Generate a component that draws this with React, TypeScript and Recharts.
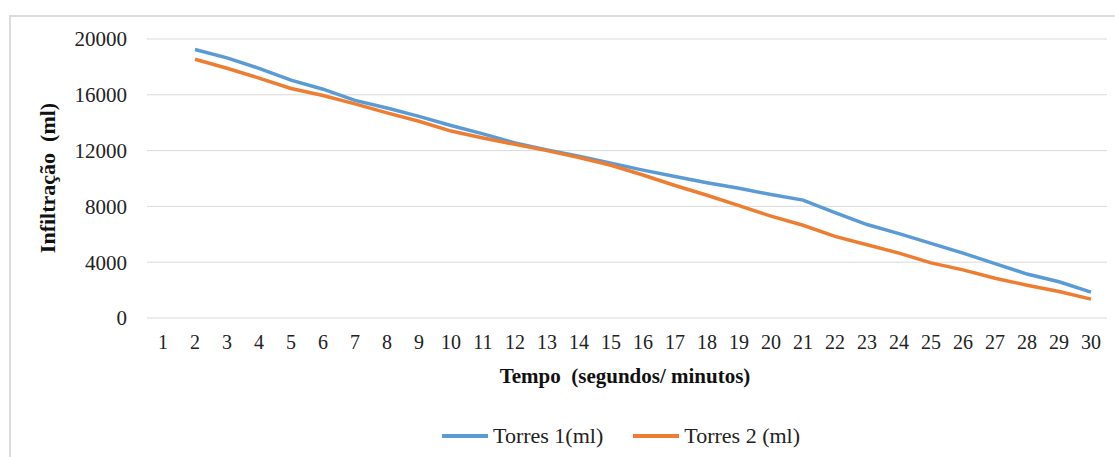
import { LineChart, Line, XAxis, YAxis, CartesianGrid } from "recharts";

const tempo = Array.from({ length: 30 }, (_, i) => String(i + 1));

const torres1: (number | null)[] = [
  null, 19250, 18650, 17900, 17050, 16400, 15600, 15050, 14450, 13800,
  13200, 12550, 12050, 11600, 11100, 10600, 10150, 9700, 9300, 8850,
  8450, 7550, 6700, 6050, 5350, 4650, 3900, 3150, 2600, 1850,
];

const torres2: (number | null)[] = [
  null, 18550, 17900, 17200, 16450, 15950, 15350, 14700, 14100, 13400,
  12900, 12450, 12000, 11500, 10950, 10250, 9500, 8800, 8050, 7300,
  6650, 5850, 5250, 4650, 3950, 3450, 2850, 2350, 1900, 1350,
];

const yTicks = [0, 4000, 8000, 12000, 16000, 20000];

const series = [
  { key: "torres1", name: "Torres 1(ml)", color: "#5b9bd5" },
  { key: "torres2", name: "Torres 2 (ml)", color: "#ed7d31" },
];

const data = tempo.map((t, i) => ({ t, torres1: torres1[i], torres2: torres2[i] }));

const serif = "Liberation Serif, Times New Roman, serif";

export default function App() {
  return (
    <div style={{ position: "absolute", left: 0, top: 0, width: 1115, height: 457, background: "#fff", overflow: "hidden", fontFamily: serif }}>
      <div style={{ position: "absolute", left: 9, top: 15, width: 1200, height: 500, borderTop: "2px solid #dcdcdc", borderLeft: "2px solid #dcdcdc" }} />
      <LineChart
        width={1115}
        height={457}
        data={data}
        margin={{ top: 39, right: 8, bottom: 109, left: 47 }}
        style={{ position: "absolute", left: 0, top: 0, fontFamily: serif }}
      >
        <CartesianGrid vertical={false} stroke="#d9d9d9" />
        <XAxis
          dataKey="t"
          height={30}
          axisLine={false}
          tickLine={false}
          tickSize={0}
          tickMargin={17}
          interval={0}
          padding={{ left: 16, right: 16 }}
          tick={{ fontFamily: serif, fontSize: 20, fill: "#222" }}
        />
        <YAxis
          width={100}
          domain={[0, 20000]}
          ticks={yTicks}
          axisLine={false}
          tickLine={false}
          tickSize={0}
          tickMargin={20}
          tick={{ fontFamily: serif, fontSize: 21, fill: "#222" }}
        />
        {series.map((s) => (
          <Line key={s.key} type="linear" dataKey={s.key} name={s.name} stroke={s.color} strokeWidth={3.5} dot={false} isAnimationActive={false} />
        ))}
      </LineChart>
      <div style={{ position: "absolute", left: 625, top: 376, transform: "translate(-50%, -50%)", fontWeight: "bold", fontSize: 21, color: "#111", whiteSpace: "pre" }}>
        {"Tempo  (segundos/ minutos)"}
      </div>
      <div style={{ position: "absolute", left: 48, top: 178, transform: "translate(-50%, -50%) rotate(-90deg)", fontWeight: "bold", fontSize: 22, color: "#111", whiteSpace: "pre" }}>
        {"Infiltração  (ml)"}
      </div>
      <div style={{ position: "absolute", left: 0, top: 423, width: 1242, display: "flex", justifyContent: "center", gap: 30, fontSize: 22, color: "#222" }}>
        {series.map((s) => (
          <div key={s.key} style={{ display: "flex", alignItems: "center" }}>
            <span style={{ display: "inline-block", width: 46, height: 4, background: s.color, marginRight: 5 }} />
            <span>{s.name}</span>
          </div>
        ))}
      </div>
    </div>
  );
}
